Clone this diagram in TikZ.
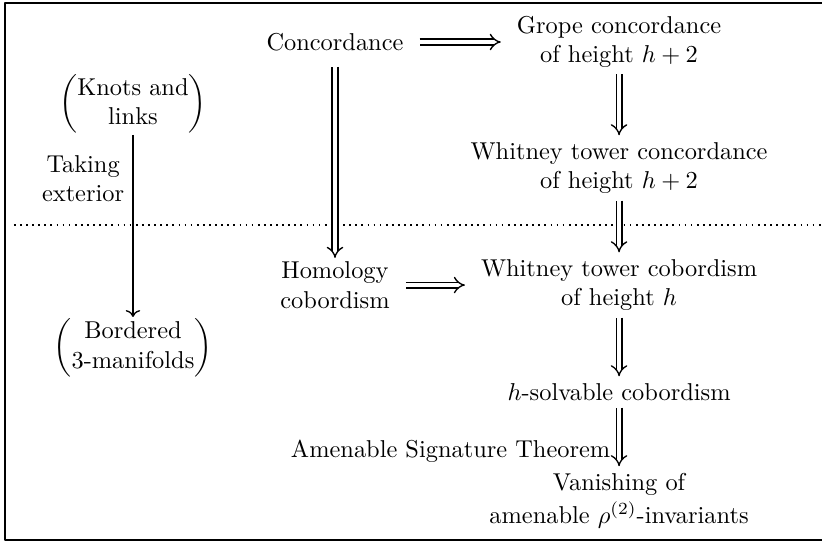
\documentclass[tikz,border=0pt]{standalone}
\usepackage{amsmath}
\usetikzlibrary{arrows.meta}

\begin{document}
\begin{tikzpicture}[line join=round, line width=0.55pt,
    imp/.style={double, double distance=1.8pt, -{Implies[scale=1.25]}, shorten <=3pt, shorten >=3pt},
    vimp/.style={imp, shorten <=-0.7pt, shorten >=-0.7pt},
    txt/.style={align=center}]
    \useasboundingbox (0,0) rectangle (11.844,-7.81);
    \draw[line width=1.1pt] (0.072,-0.043) rectangle (12.2,-7.78);
    \draw[line width=0.7pt, dash pattern=on 0.7pt off 1.8pt] (0.2,-3.24) -- (12.2,-3.24);
    % left column
    \node (knots) at (1.916,-1.5)
        {$\begin{pmatrix}\text{Knots and}\\ \text{links}\end{pmatrix}$};
    \node (bordered) at (1.916,-5.01)
        {$\begin{pmatrix}\text{Bordered}\\ \text{3-manifolds}\end{pmatrix}$};
    % middle column
    \node (conc) at (4.827,-0.605) {Concordance};
    \node[txt] (homol) at (4.827,-4.107) {Homology\\cobordism};
    % right column
    \node[txt] (grope) at (8.92,-0.6) {Grope concordance\\of height $h+2$};
    \node[txt] (wconc) at (8.92,-2.42) {Whitney tower concordance\\of height $h+2$};
    \node[txt] (wcob) at (8.92,-4.107) {Whitney tower cobordism\\of height $h$};
    \node (hsolv) at (8.92,-5.648) {$h$-solvable cobordism};
    \node[txt] (vanish) at (8.92,-7.215) {Vanishing of\\[1.5pt]amenable $\rho^{(2)}$-invariants};
    % arrows
    \draw[-{To}, shorten <=-3pt, shorten >=-3pt] (knots) -- node[txt, pos=0.22, left] {Taking\\exterior} (bordered);
    \draw[imp] (conc.east) -- (conc.east -| grope.west);
    \draw[imp] (homol) -- (wcob);
    \draw[vimp, shorten <=3pt, shorten >=-2pt] (conc) -- (homol);
    \draw
    \foreach \a/\b in {grope/wconc, wconc/wcob, wcob/hsolv}
    {(\a) edge[vimp] (\b)};
    \draw[vimp] (hsolv) -- node[pos=0.76, left] {Amenable Signature Theorem} (vanish);
\end{tikzpicture}
\end{document}
